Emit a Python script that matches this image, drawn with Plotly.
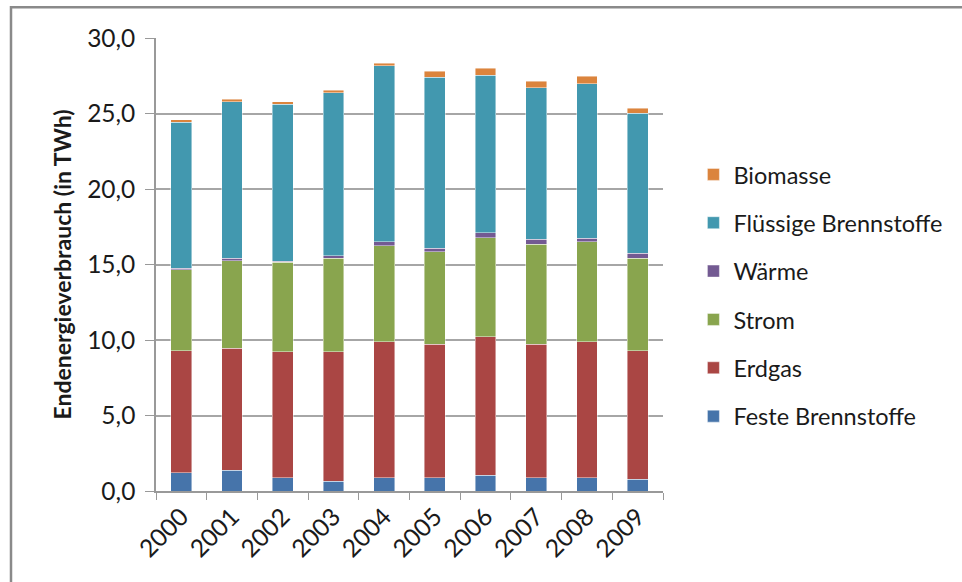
import plotly.graph_objects as go

# Endenergieverbrauch nach Energieträger, 2000-2009 (TWh)
jahre = ["2000", "2001", "2002", "2003", "2004", "2005", "2006", "2007", "2008", "2009"]

feste_brennstoffe = [1.21, 1.39, 0.88, 0.64, 0.88, 0.88, 1.04, 0.88, 0.88, 0.77]
erdgas = [8.08, 8.08, 8.33, 8.57, 9.01, 8.83, 9.18, 8.83, 9.01, 8.52]
strom = [5.35, 5.78, 5.94, 6.20, 6.36, 6.12, 6.56, 6.63, 6.62, 6.12]
waerme = [0.11, 0.16, 0.08, 0.17, 0.26, 0.26, 0.33, 0.33, 0.24, 0.33]
fluessige_brennstoffe = [9.67, 10.37, 10.38, 10.80, 11.66, 11.31, 10.44, 10.04, 10.22, 9.27]
biomasse = [0.17, 0.16, 0.17, 0.15, 0.15, 0.41, 0.44, 0.42, 0.49, 0.33]

y_ticks = [0, 5, 10, 15, 20, 25, 30]
y_tick_labels = ["0,0", "5,0", "10,0", "15,0", "20,0", "25,0", "30,0"]

serien = [
    ("Feste Brennstoffe", feste_brennstoffe, "#4674AA"),
    ("Erdgas", erdgas, "#AA4644"),
    ("Strom", strom, "#89A54E"),
    ("Wärme", waerme, "#735A92"),
    ("Flüssige Brennstoffe", fluessige_brennstoffe, "#4298AF"),
    ("Biomasse", biomasse, "#DB843D"),
]

FONT = "Lato, 'Open Sans', sans-serif"
TEXT = "#1a1a1a"

fig = go.Figure()
for i, (name, werte, farbe) in enumerate(serien):
    fig.add_trace(go.Bar(
        x=jahre, y=werte, name=name,
        legendgroup=name,
        # oberstes Segment steht in der Legende oben
        legendrank=len(serien) - i,
        marker=dict(color=farbe, line=dict(color="rgba(255,255,255,0.55)", width=0.8)),
    ))

fig.update_layout(
    barmode="stack",
    bargap=0.59,
    width=962, height=582,
    margin=dict(l=156, r=299, t=38, b=91),
    paper_bgcolor="white",
    plot_bgcolor="white",
    font=dict(family=FONT, color=TEXT, size=24),
    showlegend=True,
    legend=dict(
        traceorder="grouped",
        x=1.06, xanchor="left",
        y=0.747, yanchor="top",
        font=dict(family=FONT, size=23.5, color=TEXT),
        tracegroupgap=14.8,
        itemwidth=30,
        bgcolor="rgba(0,0,0,0)",
    ),
    xaxis=dict(
        type="category",
        tickangle=-45,
        ticks="outside",
        tickson="boundaries",
        ticklen=7,
        tickcolor="#999999",
        showline=True,
        linecolor="#999999",
        linewidth=1.5,
        showgrid=False,
        tickfont=dict(family=FONT, size=24.5, color=TEXT),
    ),
    yaxis=dict(
        range=[0, 30],
        tickvals=y_ticks,
        ticktext=y_tick_labels,
        ticks="outside",
        ticklen=9,
        tickcolor="#999999",
        showline=True,
        linecolor="#999999",
        linewidth=1.5,
        showgrid=True,
        gridcolor="#a6a6a6",
        gridwidth=1.5,
        zeroline=False,
        ticklabelstandoff=5,
        tickfont=dict(family=FONT, size=24.5, color=TEXT),
        title=dict(
            text="<b>Endenergieverbrauch (in TWh)</b>",
            font=dict(family=FONT, size=23, color=TEXT),
            standoff=9,
        ),
    ),
    shapes=[
        # Rahmen um die Diagrammfläche
        dict(
            type="rect", xref="paper", yref="paper",
            x0=-0.286, x1=1.62, y0=-0.23, y1=1.068,
            line=dict(color="#8a8a8a", width=2.5),
            fillcolor="rgba(0,0,0,0)",
            layer="below",
        ),
    ],
)

fig.write_html("out.html")
